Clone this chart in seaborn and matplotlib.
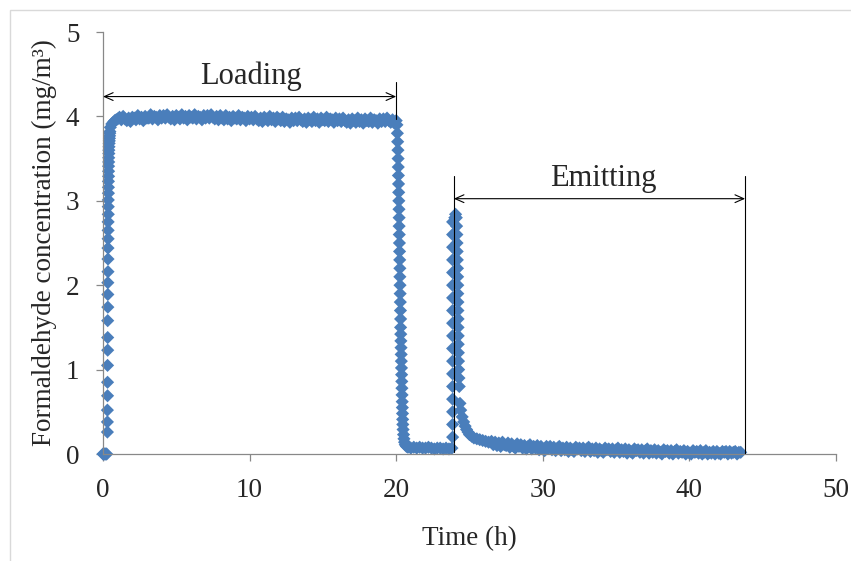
import numpy as np
import pandas as pd
import seaborn as sns
import matplotlib.pyplot as plt
from matplotlib.patches import Rectangle

# Loading phase: baseline, fast rise (time in h, concentration in mg/m3)
rise_t = [0.0, 0.05, 0.1, 0.15, 0.2, 0.25,
          0.3, 0.3, 0.3, 0.31, 0.31, 0.31, 0.32, 0.32, 0.32, 0.33,
          0.33, 0.33, 0.34, 0.34, 0.34, 0.35, 0.35, 0.35, 0.36, 0.36,
          0.36, 0.37, 0.37, 0.37, 0.38, 0.38, 0.38, 0.39, 0.39, 0.4,
          0.4, 0.41, 0.42, 0.43, 0.44, 0.45, 0.46, 0.47,
          0.5, 0.6, 0.7, 0.8, 0.9, 1.0]
rise_c = [0.0, 0.0, 0.0, 0.0, 0.0, 0.0,
          0.26, 0.38, 0.52, 0.69, 0.85, 1.05, 1.23, 1.38, 1.58, 1.74,
          1.89, 2.03, 2.16, 2.31, 2.44, 2.55, 2.65, 2.75, 2.84, 2.93,
          3.01, 3.09, 3.16, 3.23, 3.29, 3.35, 3.41, 3.46, 3.51, 3.56,
          3.60, 3.64, 3.68, 3.71, 3.74, 3.77, 3.80, 3.82,
          3.87, 3.91, 3.93, 3.95, 3.96, 3.97]

# Loading plateau
plateau_t = [1.125, 1.25, 1.375, 1.5, 1.625, 1.75, 1.875, 2.0,
             2.125, 2.25, 2.375, 2.5, 2.625, 2.75, 2.875, 3.0,
             3.125, 3.25, 3.375, 3.5, 3.625, 3.75, 3.875, 4.0,
             4.125, 4.25, 4.375, 4.5, 4.625, 4.75, 4.875, 5.0,
             5.125, 5.25, 5.375, 5.5, 5.625, 5.75, 5.875, 6.0,
             6.125, 6.25, 6.375, 6.5, 6.625, 6.75, 6.875, 7.0,
             7.125, 7.25, 7.375, 7.5, 7.625, 7.75, 7.875, 8.0,
             8.125, 8.25, 8.375, 8.5, 8.625, 8.75, 8.875, 9.0,
             9.125, 9.25, 9.375, 9.5, 9.625, 9.75, 9.875, 10.0,
             10.125, 10.25, 10.375, 10.5, 10.625, 10.75, 10.875, 11.0,
             11.125, 11.25, 11.375, 11.5, 11.625, 11.75, 11.875, 12.0,
             12.125, 12.25, 12.375, 12.5, 12.625, 12.75, 12.875, 13.0,
             13.125, 13.25, 13.375, 13.5, 13.625, 13.75, 13.875, 14.0,
             14.125, 14.25, 14.375, 14.5, 14.625, 14.75, 14.875, 15.0,
             15.125, 15.25, 15.375, 15.5, 15.625, 15.75, 15.875, 16.0,
             16.125, 16.25, 16.375, 16.5, 16.625, 16.75, 16.875, 17.0,
             17.125, 17.25, 17.375, 17.5, 17.625, 17.75, 17.875, 18.0,
             18.125, 18.25, 18.375, 18.5, 18.625, 18.75, 18.875, 19.0,
             19.125, 19.25, 19.375, 19.5, 19.625, 19.75, 19.875, 20.0]
plateau_c = [3.99, 3.96, 4.00, 3.97, 3.95, 3.98, 3.94, 3.99,
             3.98, 3.96, 4.01, 3.97, 3.99, 3.95, 4.00, 3.98,
             3.98, 4.02, 3.97, 4.00, 3.99, 3.96, 4.01, 3.98,
             4.01, 3.98, 4.02, 3.99, 3.97, 4.00, 3.96, 4.01,
             3.99, 3.97, 4.02, 3.98, 4.00, 3.96, 4.01, 3.99,
             3.98, 4.02, 3.97, 4.00, 3.99, 3.96, 4.01, 3.98,
             4.01, 3.98, 4.02, 3.99, 3.97, 4.00, 3.96, 4.01,
             3.98, 3.96, 4.01, 3.97, 3.99, 3.95, 4.00, 3.98,
             3.97, 4.01, 3.96, 3.99, 3.98, 3.95, 4.00, 3.97,
             3.99, 3.96, 4.00, 3.97, 3.95, 3.98, 3.94, 3.99,
             3.97, 3.95, 4.00, 3.96, 3.98, 3.94, 3.99, 3.97,
             3.95, 3.99, 3.94, 3.97, 3.96, 3.93, 3.98, 3.95,
             3.98, 3.95, 3.99, 3.96, 3.94, 3.97, 3.93, 3.98,
             3.96, 3.94, 3.99, 3.95, 3.97, 3.93, 3.98, 3.96,
             3.95, 3.99, 3.94, 3.97, 3.96, 3.93, 3.98, 3.95,
             3.97, 3.94, 3.98, 3.95, 3.93, 3.96, 3.92, 3.97,
             3.95, 3.93, 3.98, 3.94, 3.96, 3.92, 3.97, 3.95,
             3.94, 3.98, 3.93, 3.96, 3.95, 3.92, 3.97, 3.94,
             3.97, 3.94, 3.98, 3.95, 3.93, 3.96, 3.92, 3.95]

# Source switched off: drop, and the low level before emitting starts
drop_t = [20.05, 20.08, 20.1, 20.12, 20.13, 20.14, 20.15, 20.16, 20.17, 20.18,
          20.19, 20.2, 20.2, 20.21, 20.22, 20.23, 20.24, 20.25, 20.25, 20.26,
          20.27, 20.28, 20.29, 20.3, 20.3, 20.31, 20.32, 20.33, 20.34, 20.35,
          20.36, 20.37, 20.38, 20.39, 20.4, 20.41, 20.42, 20.43, 20.44, 20.45,
          20.47, 20.5, 20.53, 20.57, 20.62, 20.7,
          20.8, 21.0, 21.2, 21.4, 21.6, 21.8, 22.0, 22.2, 22.4, 22.6, 22.8,
          23.0, 23.2, 23.4, 23.6, 23.8]
drop_c = [3.9, 3.8, 3.7, 3.6, 3.5, 3.4, 3.3, 3.2, 3.1, 3.0,
          2.9, 2.8, 2.7, 2.6, 2.5, 2.4, 2.3, 2.2, 2.1, 2.0,
          1.9, 1.8, 1.7, 1.6, 1.5, 1.42, 1.34, 1.26, 1.18, 1.1,
          1.02, 0.94, 0.86, 0.78, 0.7, 0.62, 0.55, 0.48, 0.41, 0.35,
          0.29, 0.23, 0.18, 0.14, 0.11, 0.09,
          0.08, 0.07, 0.08, 0.07, 0.08, 0.07, 0.07, 0.08, 0.07, 0.06, 0.07,
          0.07, 0.06, 0.07, 0.06, 0.07]

# Emitting phase: peak and decay
emit_t = [23.85, 23.85, 23.85, 23.85, 23.85, 23.85, 23.85, 23.85, 23.85,
          23.85, 23.85, 23.85, 23.85, 23.85, 23.85, 23.85, 23.85, 23.85,
          24.0, 24.05, 24.1, 24.12, 24.14, 24.15, 24.16, 24.17, 24.18, 24.19,
          24.2, 24.2, 24.21, 24.21, 24.22, 24.22, 24.23, 24.23, 24.24, 24.25,
          24.26, 24.28, 24.3, 24.35, 24.4, 24.5, 24.6, 24.7, 24.8, 24.9,
          25.0, 25.15, 25.3, 25.5, 25.7, 25.9, 26.1, 26.3]
emit_c = [0.2, 0.35, 0.5, 0.65, 0.8, 0.95, 1.1, 1.25, 1.4,
          1.55, 1.7, 1.85, 2.0, 2.15, 2.3, 2.45, 2.6, 2.75,
          2.8, 2.84, 2.8, 2.7, 2.6, 2.5, 2.4, 2.3, 2.2, 2.1,
          2.0, 1.9, 1.8, 1.7, 1.6, 1.5, 1.4, 1.3, 1.2, 1.1,
          1.0, 0.9, 0.8, 0.6, 0.52, 0.44, 0.38, 0.33, 0.29, 0.26,
          0.23, 0.21, 0.19, 0.18, 0.17, 0.16, 0.15, 0.14]

# Emitting tail
tail_t = [26.5, 26.625, 26.75, 26.875, 27.0, 27.125, 27.25, 27.375,
          27.5, 27.625, 27.75, 27.875, 28.0, 28.125, 28.25, 28.375,
          28.5, 28.625, 28.75, 28.875, 29.0, 29.125, 29.25, 29.375,
          29.5, 29.625, 29.75, 29.875, 30.0, 30.125, 30.25, 30.375,
          30.5, 30.625, 30.75, 30.875, 31.0, 31.125, 31.25, 31.375,
          31.5, 31.625, 31.75, 31.875, 32.0, 32.125, 32.25, 32.375,
          32.5, 32.625, 32.75, 32.875, 33.0, 33.125, 33.25, 33.375,
          33.5, 33.625, 33.75, 33.875, 34.0, 34.125, 34.25, 34.375,
          34.5, 34.625, 34.75, 34.875, 35.0, 35.125, 35.25, 35.375,
          35.5, 35.625, 35.75, 35.875, 36.0, 36.125, 36.25, 36.375,
          36.5, 36.625, 36.75, 36.875, 37.0, 37.125, 37.25, 37.375,
          37.5, 37.625, 37.75, 37.875, 38.0, 38.125, 38.25, 38.375,
          38.5, 38.625, 38.75, 38.875, 39.0, 39.125, 39.25, 39.375,
          39.5, 39.625, 39.75, 39.875, 40.0, 40.125, 40.25, 40.375,
          40.5, 40.625, 40.75, 40.875, 41.0, 41.125, 41.25, 41.375,
          41.5, 41.625, 41.75, 41.875, 42.0, 42.125, 42.25, 42.375,
          42.5, 42.625, 42.75, 42.875, 43.0, 43.125, 43.25, 43.375,
          43.5]
tail_c = [0.15, 0.11, 0.14, 0.10, 0.13, 0.09, 0.14, 0.11,
          0.10, 0.13, 0.08, 0.12, 0.09, 0.07, 0.12, 0.09,
          0.11, 0.07, 0.10, 0.06, 0.09, 0.11, 0.06, 0.09,
          0.07, 0.10, 0.05, 0.09, 0.06, 0.04, 0.09, 0.07,
          0.09, 0.05, 0.08, 0.04, 0.07, 0.09, 0.04, 0.07,
          0.05, 0.08, 0.03, 0.07, 0.05, 0.03, 0.08, 0.06,
          0.07, 0.04, 0.07, 0.03, 0.06, 0.08, 0.03, 0.06,
          0.04, 0.07, 0.02, 0.06, 0.04, 0.02, 0.07, 0.05,
          0.06, 0.03, 0.06, 0.02, 0.05, 0.07, 0.02, 0.05,
          0.03, 0.06, 0.01, 0.05, 0.03, 0.01, 0.06, 0.04,
          0.05, 0.02, 0.05, 0.01, 0.04, 0.06, 0.01, 0.04,
          0.02, 0.05, 0.01, 0.04, 0.02, 0.00, 0.05, 0.03,
          0.04, 0.01, 0.04, 0.00, 0.03, 0.05, 0.01, 0.03,
          0.02, 0.04, 0.00, 0.03, 0.01, 0.00, 0.04, 0.02,
          0.03, 0.01, 0.04, 0.00, 0.02, 0.04, 0.00, 0.02,
          0.01, 0.03, 0.00, 0.03, 0.01, 0.00, 0.03, 0.02,
          0.03, 0.00, 0.03, 0.01, 0.02, 0.03, 0.00, 0.02,
          0.02]

df = pd.DataFrame({
    'time': rise_t + plateau_t + drop_t + emit_t + tail_t,
    'conc': rise_c + plateau_c + drop_c + emit_c + tail_c,
})

sns.set_style('white')
plt.rcParams['font.family'] = ['Liberation Serif', 'DejaVu Serif']

fig = plt.figure(figsize=(8.51, 5.61), dpi=100)
ax = fig.add_axes([103 / 851, 1 - 454 / 561, 733 / 851, 422 / 561])

# light frame around the chart area
fig.patches.append(Rectangle((10 / 851, -0.1), 1.2, 1 - 10 / 561 + 0.1,
                             transform=fig.transFigure, fill=False,
                             edgecolor='#d9d9d9', linewidth=1))

sns.scatterplot(data=df, x='time', y='conc', marker='D', s=45,
                color='#4a7ebb', edgecolor='none', linewidth=0,
                legend=False, ax=ax, zorder=2, clip_on=False)

ax.set_xlim(0, 50)
ax.set_ylim(0, 5)
ax.set_xticks([0, 10, 20, 30, 40, 50])
ax.set_yticks([0, 1, 2, 3, 4, 5])
ax.set_xlabel('Time (h)', fontsize=19.5, labelpad=17)
ax.set_ylabel('Formaldehyde concentration (mg/m³)', fontsize=19.5, labelpad=6)

for side in ['top', 'right']:
    ax.spines[side].set_visible(False)
for side in ['left', 'bottom']:
    ax.spines[side].set_color('#888888')
    ax.spines[side].set_linewidth(0.9)
ax.tick_params(axis='both', direction='out', length=5, width=0.9,
               color='#888888', labelsize=19.5, pad=12, left=True, bottom=True)

# phase markers
ax.plot([20, 20], [3.97, 4.41], color='black', lw=0.8, zorder=3)
ax.plot([23.93, 23.93], [0.02, 3.29], color='black', lw=0.8, zorder=3)
ax.plot([43.8, 43.8], [0, 3.29], color='black', lw=0.8, zorder=3)

arrow = dict(arrowstyle='<->,head_length=0.45,head_width=0.2', color='black',
             lw=0.8, shrinkA=0, shrinkB=0, mutation_scale=14)
ax.annotate('', xy=(0, 4.235), xytext=(20, 4.235), arrowprops=arrow)
ax.annotate('', xy=(23.93, 3.025), xytext=(43.8, 3.025), arrowprops=arrow)
ax.text(10.1, 4.38, 'Loading', fontsize=22, ha='center', va='baseline')
ax.text(34.15, 3.17, 'Emitting', fontsize=22, ha='center', va='baseline')

fig.savefig('out.png', dpi=100)
